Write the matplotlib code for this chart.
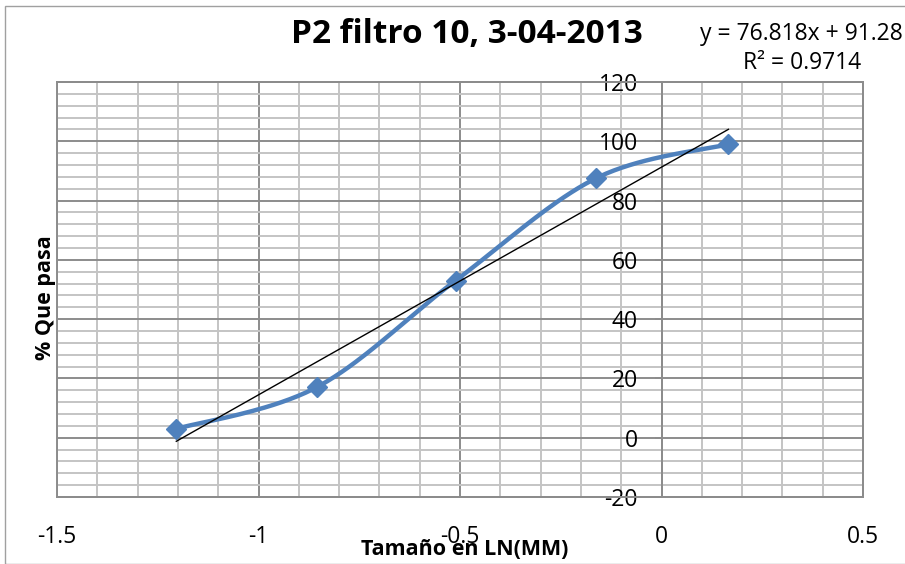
import numpy as np
import matplotlib.pyplot as plt
from matplotlib.patches import Rectangle

plt.rcParams['font.family'] = ['Open Sans', 'DejaVu Sans']
plt.rcParams['axes.unicode_minus'] = False

# data
ln_size = [-1.204, -0.856, -0.511, -0.163, 0.166]
pct_pass = [3, 17, 53, 87.5, 99]
slope, intercept = 76.818, 91.28
eq_text = 'y = 76.818x + 91.28'
r2_text = 'R² = 0.9714'

x_ticks = [-1.5, -1, -0.5, 0, 0.5]
y_ticks = [-20, 0, 20, 40, 60, 80, 100, 120]

blue = '#4F81BD'


def smooth(xs, ys, n=40):
    # bezier smoothing like the spreadsheet "smoothed line" option
    p = np.column_stack([xs, ys]).astype(float)
    p = np.vstack([p[0], p, p[-1]])
    out = []
    t = np.linspace(0, 1, n)[:, None]
    for i in range(1, len(p) - 2):
        p0, p1 = p[i], p[i + 1]
        c1 = p0 + (p[i + 1] - p[i - 1]) / 6
        c2 = p1 - (p[i + 2] - p[i]) / 6
        seg = ((1 - t) ** 3) * p0 + 3 * ((1 - t) ** 2) * t * c1 \
            + 3 * (1 - t) * t ** 2 * c2 + t ** 3 * p1
        out.append(seg)
    out = np.vstack(out)
    return out[:, 0], out[:, 1]


fig = plt.figure(figsize=(9.05, 5.64), dpi=100)
fig.patches.append(Rectangle((0.006, 0.0), 0.999, 0.99, transform=fig.transFigure,
                             fill=False, edgecolor='#a0a0a0', lw=1))
ax = fig.add_axes([0.063, 0.1188, 0.8906, 0.7358])

ax.set_xlim(-1.5, 0.5)
ax.set_ylim(-20, 120)

# grid
for xv in np.arange(-1.5, 0.51, 0.1):
    major = abs(xv * 2 - round(xv * 2)) < 1e-6
    ax.axvline(xv, color='#8c8c8c' if major else '#c4c4c4', lw=1.4, zorder=0)
for yv in np.arange(-20, 121, 4):
    major = yv % 20 == 0
    ax.axhline(yv, color='#8c8c8c' if major else '#c4c4c4', lw=1.4, zorder=0)

for s in ['top', 'right', 'bottom']:
    ax.spines[s].set_color('#8c8c8c')
    ax.spines[s].set_linewidth(1.4)
ax.spines['left'].set_position(('data', 0))
ax.spines['left'].set_color('#8c8c8c')
ax.spines['left'].set_linewidth(1.4)
ax.add_patch(Rectangle((0, 0), 1, 1, transform=ax.transAxes, fill=False,
                       edgecolor='#8c8c8c', lw=1.4, zorder=1, clip_on=False))

ax.set_xticks(x_ticks)
ax.set_xticklabels(['-1.5', '-1', '-0.5', '0', '0.5'])
ax.set_yticks(y_ticks)
ax.tick_params(axis='x', length=0, pad=20, labelsize=16.5)
ax.tick_params(axis='y', length=5, color='#8c8c8c', width=1.4, pad=12, labelsize=16.5)

sx, sy = smooth(ln_size, pct_pass)
ax.plot(sx, sy, color=blue, lw=3.2, zorder=3, solid_capstyle='round')
ax.plot(ln_size, pct_pass, linestyle='none', marker='D', ms=10,
        color=blue, zorder=4)

tx = np.array([min(ln_size), max(ln_size)])
ax.plot(tx, slope * tx + intercept, color='black', lw=1, zorder=5)

fig.text(0.516, 0.938, 'P2 filtro 10, 3-04-2013', ha='center', va='center',
         fontsize=24, fontweight='bold')
fig.text(0.886, 0.94, eq_text, ha='center', va='center', fontsize=16.5)
fig.text(0.886, 0.888, r2_text, ha='center', va='center', fontsize=16.5)
fig.text(0.05, 0.473, '% Que pasa', rotation=90, ha='center', va='center',
         fontsize=15.5, fontweight='bold')
fig.text(0.513, 0.025, 'Tamaño en LN(MM)', ha='center', va='center',
         fontsize=15.5, fontweight='bold')

fig.savefig('out.png', dpi=100)
